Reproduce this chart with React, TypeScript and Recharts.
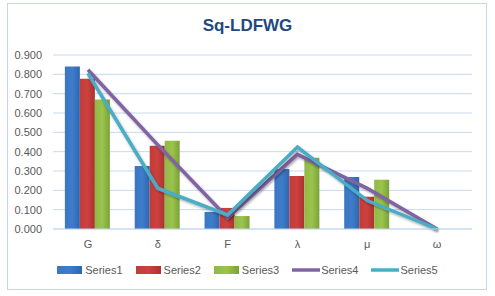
import React from "react";
import { ComposedChart, Bar, Line, XAxis, YAxis, CartesianGrid } from "recharts";

const categories = ["G", "δ", "F", "λ", "μ", "ω"];
const series1 = [0.84, 0.326, 0.088, 0.31, 0.269, 0];
const series2 = [0.777, 0.431, 0.109, 0.274, 0.167, 0];
const series3 = [0.67, 0.456, 0.067, 0.368, 0.255, 0];
const series4 = [0.824, 0.435, 0.058, 0.386, 0.21, 0];
const series5 = [0.805, 0.211, 0.073, 0.424, 0.147, 0];
const yTicks = [0, 0.1, 0.2, 0.3, 0.4, 0.5, 0.6, 0.7, 0.8, 0.9];

const data = categories.map((c, i) => ({
  name: c,
  Series1: series1[i],
  Series2: series2[i],
  Series3: series3[i],
  Series4: series4[i],
  Series5: series5[i],
}));

const FONT = "'Liberation Sans', Arial, sans-serif";

const legendItems = [
  { name: "Series1", color: "url(#gBlue)", solid: "#3b78c4", type: "bar" },
  { name: "Series2", color: "url(#gRed)", solid: "#c43c39", type: "bar" },
  { name: "Series3", color: "url(#gGreen)", solid: "#94bd48", type: "bar" },
  { name: "Series4", color: "#8064a2", solid: "#8064a2", type: "line" },
  { name: "Series5", color: "#4bacc6", solid: "#4bacc6", type: "line" },
];

export default function App() {
  return (
    <div style={{ position: "absolute", left: 0, top: 0, width: 495, height: 296, background: "#fff", fontFamily: FONT }}>
      <svg width={0} height={0} style={{ position: "absolute" }}>
        <defs>
          <linearGradient id="gBlue" x1="0" y1="0" x2="1" y2="0">
            <stop offset="0" stopColor="#3a76c2" />
            <stop offset="0.5" stopColor="#3e7dcb" />
            <stop offset="1" stopColor="#2f66ad" />
          </linearGradient>
          <linearGradient id="gRed" x1="0" y1="0" x2="1" y2="0">
            <stop offset="0" stopColor="#c23b38" />
            <stop offset="0.5" stopColor="#cc413e" />
            <stop offset="1" stopColor="#a93230" />
          </linearGradient>
          <linearGradient id="gGreen" x1="0" y1="0" x2="1" y2="0">
            <stop offset="0" stopColor="#8fb944" />
            <stop offset="0.5" stopColor="#9bc44e" />
            <stop offset="1" stopColor="#7aa238" />
          </linearGradient>
          <filter id="lineShadow" x="-10%" y="-10%" width="120%" height="130%">
            <feDropShadow dx="1" dy="1.5" stdDeviation="1" floodColor="#000" floodOpacity="0.35" />
          </filter>
        </defs>
      </svg>
      <div
        style={{
          position: "absolute",
          left: 7,
          top: 3,
          width: 478,
          height: 285,
          border: "1px solid #c4d6ee",
        }}
      />
      <div
        style={{
          position: "absolute",
          left: 0,
          top: 15,
          width: 495,
          textAlign: "center",
          fontSize: 17,
          fontWeight: "bold",
          color: "#1f497d",
          lineHeight: "22px",
        }}
      >
        Sq-LDFWG
      </div>
      <div style={{ position: "absolute", left: 0, top: 0 }}>
        <ComposedChart
          width={495}
          height={296}
          data={data}
          margin={{ top: 55, right: 23, bottom: 37, left: 0 }}
          barCategoryGap="17%"
          barGap={0}
        >
          <CartesianGrid vertical={false} stroke="#c6d9f1" strokeWidth={1} />
          <XAxis
            dataKey="name"
            height={30}
            tickLine={false}
            axisLine={{ stroke: "#c6d9f1" }}
            tickSize={0}
            tickMargin={11}
            tick={{ fontSize: 11, fill: "#595959", fontFamily: FONT }}
            interval={0}
          />
          <YAxis
            width={53}
            domain={[0, 0.9]}
            ticks={yTicks}
            interval={0}
            tickFormatter={(v: number) => v.toFixed(3)}
            tickLine={false}
            axisLine={false}
            tickSize={0}
            tickMargin={11}
            tick={{ fontSize: 11, fill: "#595959", fontFamily: FONT }}
          />
          <Bar dataKey="Series1" fill="url(#gBlue)" isAnimationActive={false} />
          <Bar dataKey="Series2" fill="url(#gRed)" isAnimationActive={false} />
          <Bar dataKey="Series3" fill="url(#gGreen)" isAnimationActive={false} />
          <Line
            dataKey="Series4"
            stroke="#8064a2"
            strokeWidth={3.5}
            dot={false}
            activeDot={false}
            isAnimationActive={false}
            style={{ filter: "url(#lineShadow)" }}
          />
          <Line
            dataKey="Series5"
            stroke="#4bacc6"
            strokeWidth={3.5}
            dot={false}
            activeDot={false}
            isAnimationActive={false}
            style={{ filter: "url(#lineShadow)" }}
          />
        </ComposedChart>
      </div>
      <div
        style={{
          position: "absolute",
          left: 0,
          top: 263,
          width: 495,
          display: "flex",
          justifyContent: "center",
          gap: 13,
          fontSize: 11,
          color: "#595959",
          lineHeight: "14px",
        }}
      >
        {legendItems.map((it) => (
          <div key={it.name} style={{ display: "flex", alignItems: "center" }}>
            {it.type === "bar" ? (
              <svg width={25} height={8} style={{ marginRight: 3 }}>
                <rect x={0} y={0} width={25} height={8} fill={it.color} />
              </svg>
            ) : (
              <svg width={28} height={8} style={{ marginRight: 1 }}>
                <line x1={0} y1={4} x2={28} y2={4} stroke={it.color} strokeWidth={3.5} />
              </svg>
            )}
            <span>{it.name}</span>
          </div>
        ))}
      </div>
    </div>
  );
}
